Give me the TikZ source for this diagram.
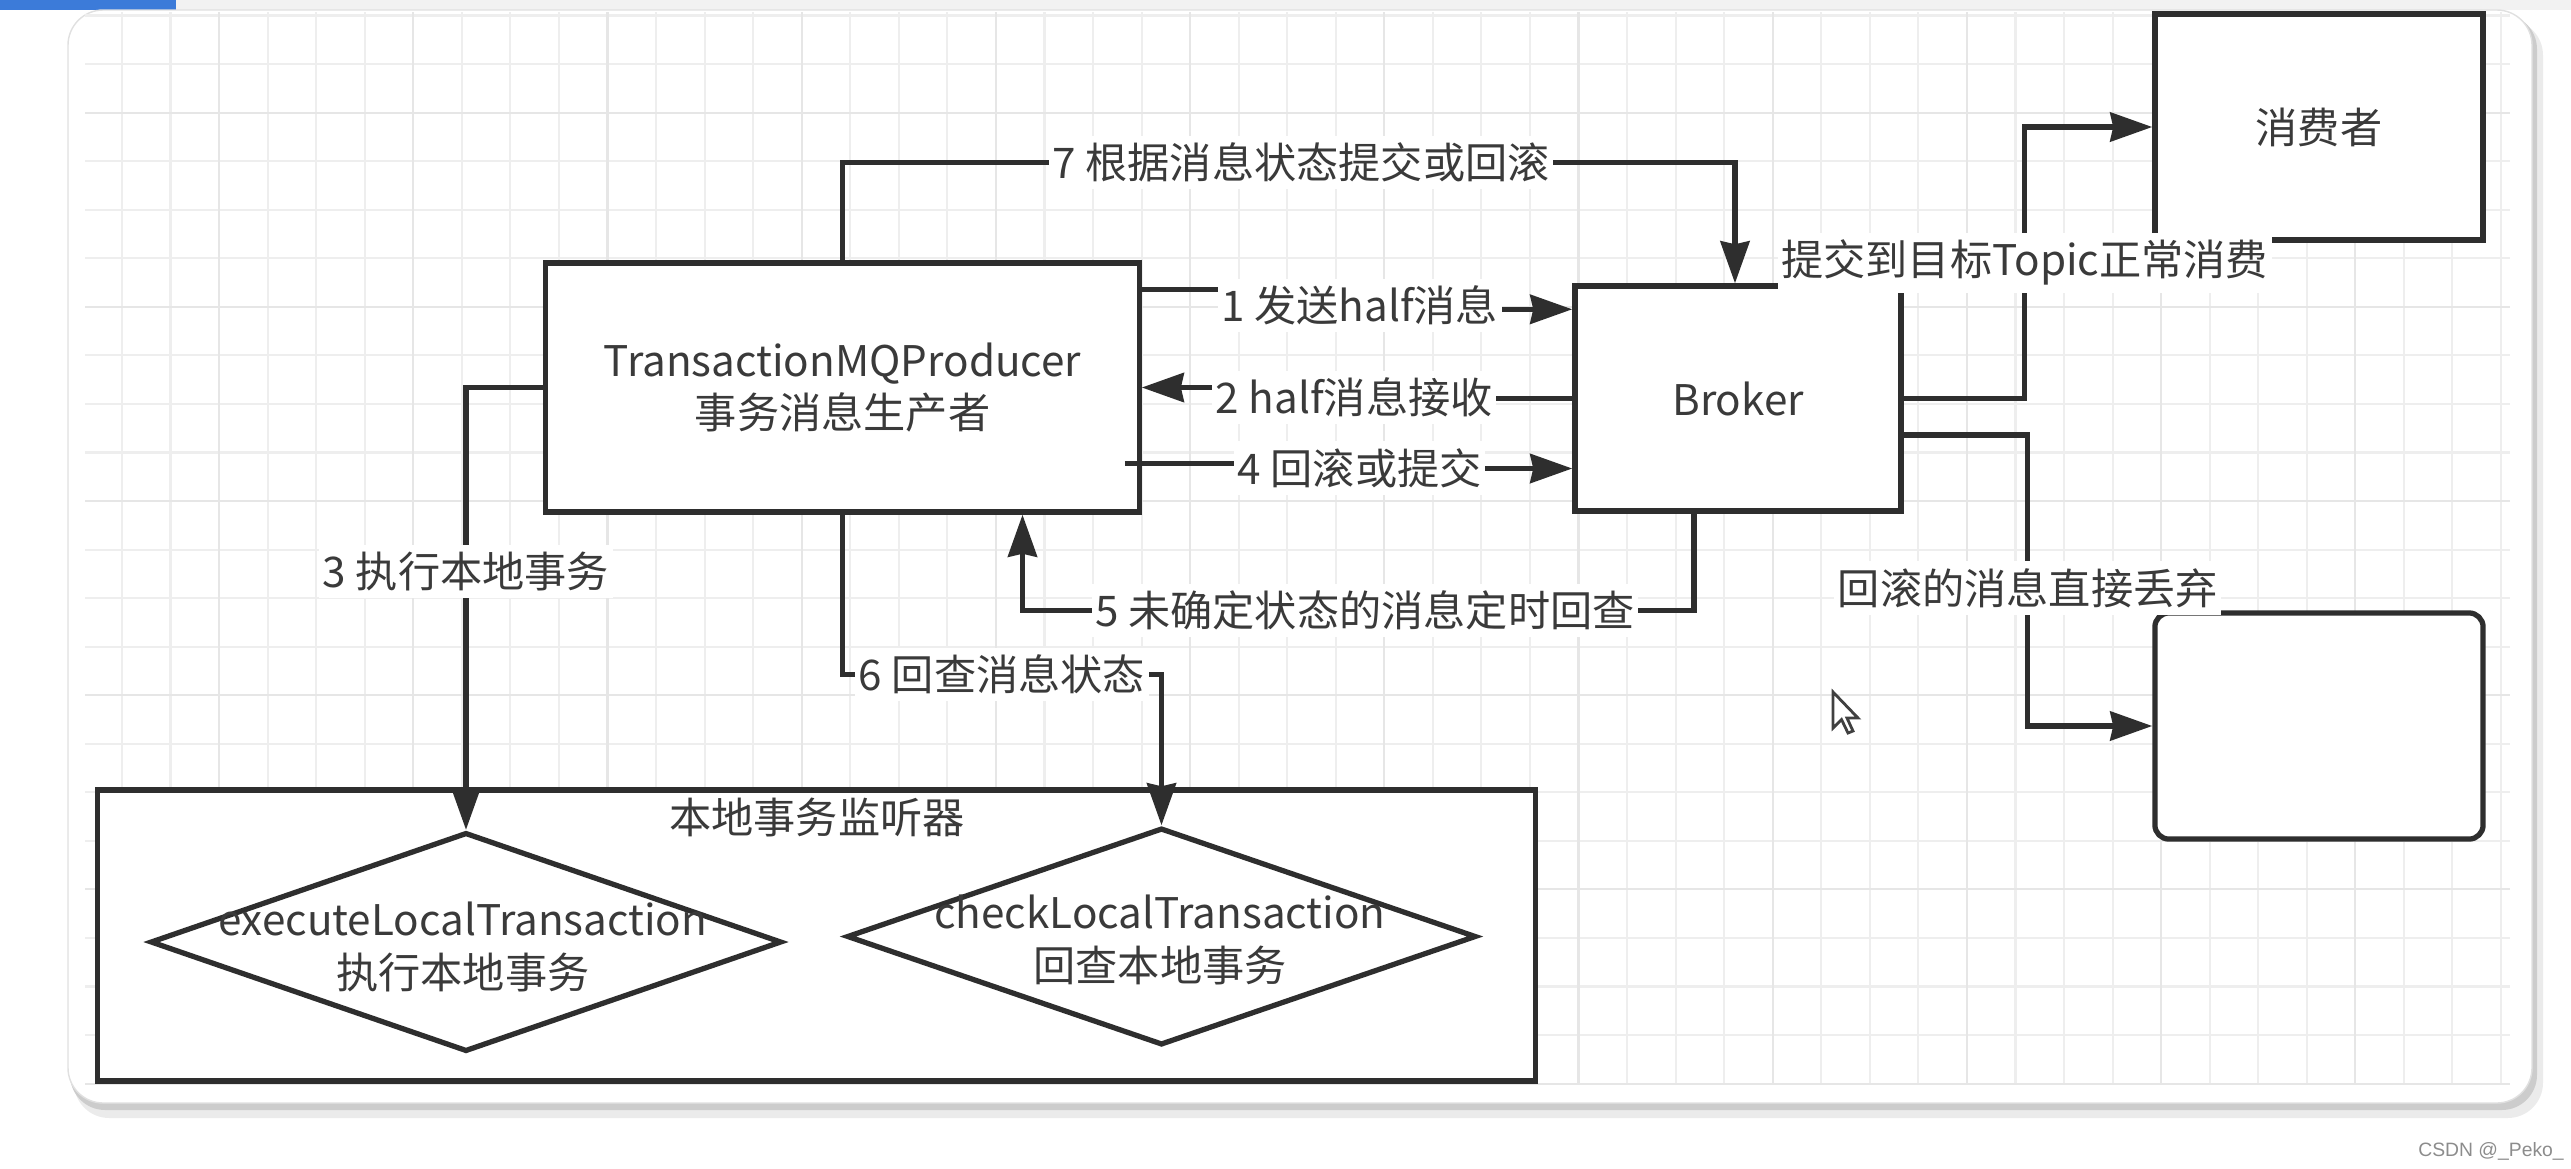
\documentclass[tikz,border=0pt]{standalone}
\usepackage{fontspec}
\setmainfont{Noto Sans CJK SC}
\newfontfamily\wmfont{Liberation Sans}
\usepackage{tikz}
\usetikzlibrary{calc}
\usetikzlibrary{arrows.meta}
\usetikzlibrary{shapes.geometric}

\definecolor{linegray}{HTML}{2E2E2E}
\definecolor{textgray}{HTML}{3A3A3A}
\definecolor{gridminor}{HTML}{EEEEEE}
\definecolor{gridmajor}{HTML}{E6E6E6}
\definecolor{tabblue}{HTML}{3C7BD9}

\tikzset{
  every node/.style={font=\fontsize{12pt}{15pt}\selectfont, text=textgray},
  box/.style={draw=linegray, line width=1.5pt, fill=white, inner sep=0pt, align=center},
  diam/.style={draw=linegray, line width=1.5pt, fill=white, diamond, inner sep=0pt},
  conn/.style={draw=linegray, line width=1.5pt, -{Stealth[length=4.2mm,width=2.9mm,inset=0.3mm]}},
  lbl/.style={fill=white, inner xsep=1pt, inner ysep=2pt},
  gridline/.style={draw=gridminor, line width=0.6pt},
}

\begin{document}
\begin{tikzpicture}[x=0.01cm, y=-0.01cm]
\useasboundingbox (0,0) rectangle (2571,1169);
\fill[black!5] (0,0) rectangle (2571,10);
\fill[tabblue] (0,0) rectangle (176,10);
\fill[black!8, rounded corners=10] (74,20) rectangle (2543,1118);
\fill[black!20, rounded corners=10] (70,14) rectangle (2537,1110);
\filldraw[fill=white, draw=black!12, rounded corners=10] (68,10) rectangle (2532,1103);
\foreach \i in {0,...,49} {
  \draw[gridline] ({122+48.55*\i},12) -- ({122+48.55*\i},1084);
}
\foreach \j in {0,...,22} {
  \draw[gridline] (85,{15.5+48.55*\j}) -- (2510,{15.5+48.55*\j});
}
\foreach \i in {2,6,...,46} {
  \draw[gridline, draw=gridmajor] ({122+48.55*\i},12) -- ({122+48.55*\i},1084);
}
\foreach \j in {2,6,...,22} {
  \draw[gridline, draw=gridmajor] (85,{15.5+48.55*\j}) -- (2510,{15.5+48.55*\j});
}

\node[box, minimum width=5.93cm, minimum height=2.49cm] (prod) at (842.5,387.5) {TransactionMQProducer\\事务消息生产者};
\node[box, minimum width=3.26cm, minimum height=2.25cm] (broker) at (1738,398.5) {Broker};
\node[box, minimum width=3.28cm, minimum height=2.26cm] (cons) at (2319,127) {消费者};
\node[box, rounded corners=1.4mm, minimum width=3.28cm, minimum height=2.26cm] (drop) at (2319,726) {};
\node[box, minimum width=14.37cm, minimum height=2.91cm] (listener) at (816.5,935.5) {};
\node (ltitle) at (817,817) {本地事务监听器};
\node[diam, minimum width=6.31cm, minimum height=2.19cm] (exec) at (466,942) {};
\node[align=center] (exectext) at (463,947) {executeLocalTransaction\\执行本地事务};
\node[diam, minimum width=6.29cm, minimum height=2.17cm] (check) at (1161.5,936.5) {};
\node[align=center] (checktext) at (1160,940) {checkLocalTransaction\\回查本地事务};

\draw[conn] (prod.north) -- ++(0,-98) -| node[lbl, pos=0.257] {7 根据消息状态提交或回滚} ($(broker.north)+(-3,0)$);
\draw[conn] ($(prod.north east)+(0,29)$) -- ++(218,0) |- node[lbl, pos=0.4] {1 发送half消息} ($(broker.north west)+(0,26)$);
\draw[conn] (broker.west) -- ++(-218,0) |- node[lbl, pos=0.05] {2 half消息接收} (prod.east);
\draw[conn] ($(prod.east)+(-17,76)$) -- ++(235,0) |- node[lbl, pos=0.45] {4 回滚或提交} ($(broker.west)+(0,70)$);
\draw[conn] ($(broker.south)+(-44,0)$) -- ++(0,97) -| node[lbl, pos=0.245] {5 未确定状态的消息定时回查} ($(prod.south)+(180,0)$);
\draw[conn] (prod.south) -- ++(0,160) -| node[lbl, pos=0.25] {6 回查消息状态} (check.north);
\draw[conn] (prod.west) -| node[lbl, pos=0.708] {3 执行本地事务} (exec.north);
\draw[conn] (broker.east) -- ++(121,0) |- node[lbl, pos=0.25] {提交到目标Topic正常消费} (cons.west);
\draw[conn] ($(broker.east)+(0,36.5)$) -- ++(124,0) |- node[lbl, pos=0.263] {回滚的消息直接丢弃} (drop.west);

\filldraw[fill=white, draw=black!75, line width=0.8pt] (1833,692) -- ++(0,36) -- ++(8.5,-8.5) -- ++(6.5,13.5) -- ++(5,-2) -- ++(-6,-13) -- ++(11,0) -- cycle;
\node[font=\wmfont\fontsize{5.5pt}{6pt}\selectfont, text=black!45] (mark) at (2491,1151) {CSDN @\_Peko\_};
\end{tikzpicture}
\end{document}
